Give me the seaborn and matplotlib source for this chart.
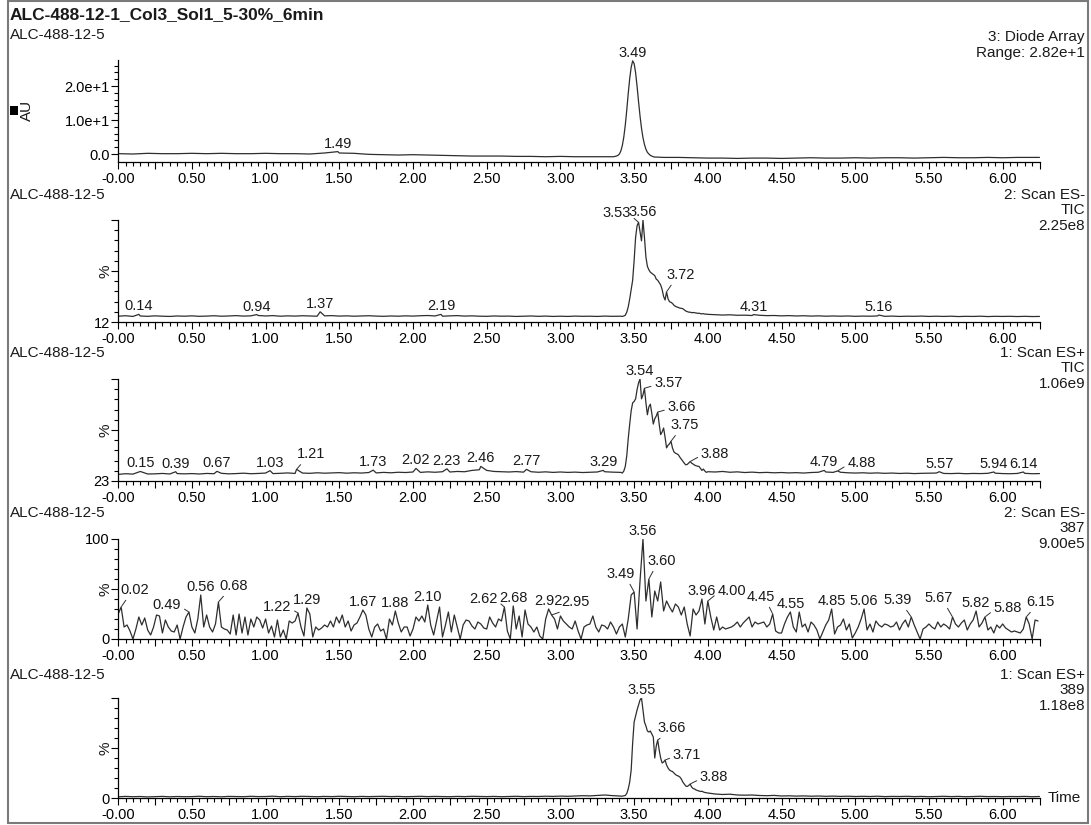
import numpy as np
import pandas as pd
import matplotlib
matplotlib.use("Agg")
import matplotlib.pyplot as plt
from matplotlib.patches import Rectangle
from matplotlib.ticker import FixedLocator
import seaborn as sns

# ======================= DATA =======================
title_text = "ALC-488-12-1_Col3_Sol1_5-30%_6min"
sample_name = "ALC-488-12-5"
x_major = [round(0.25 * i, 2) for i in range(26)]          # 0.00 .. 6.25
x_minor = [round(0.05 * i, 2) for i in range(126)]

# ---- Panel 1 : 3: Diode Array (AU) ----
da_seg1 = [0.1, 0.0, 0.2, 0.1, 0.1, 0.2, 0.1, 0.2, 0.1, 0.1,
           0.2, 0.1, 0.1, 0.0, 0.3, 0.3, 0.2, -0.1, -0.2, -0.3,
           -0.2, -0.3, -0.4, -0.5, -0.6, -0.6, -0.6, -0.7, -0.7, -0.8,
           -0.7, -0.8, -0.8, -0.8]                                   # 0.00-3.30 /0.10
da_seg2 = [-0.8, -0.8, -0.7, -0.6, -0.4, 0.0, 0.9, 2.5, 5.0, 8.5,
           12.9, 17.8, 22.2, 25.5, 27.4, 26.6, 23.9, 19.9, 15.4, 11.2,
           7.6, 4.8, 2.8, 1.4, 0.5, 0.0, -0.4, -0.6, -0.8, -0.9, -0.9]  # 3.35-3.65 /0.01
da_seg3 = [-1.0, -1.0, -1.1, -1.2, -1.2, -1.3, -1.2, -1.2, -1.3, -1.2,
           -1.1, -1.2, -1.2, -1.1, -1.2, -1.1, -1.1, -1.2, -1.1, -1.0,
           -1.1, -1.1, -1.0, -1.1, -1.0, -1.0]                      # 3.70-6.20 /0.10
da_extra_t = [1.49, 6.25]
da_extra_v = [0.7, -1.0]
da_labels = [1.49, 3.49]

# ---- Panel 2 : 2: Scan ES- TIC (%) ----
tneg_seg1 = [17.0, 17.4, 16.8, 17.2, 16.9, 17.3, 17.0, 16.8, 17.2, 17.0,
             17.3, 16.9, 17.1, 17.4, 17.0, 17.2, 17.5, 17.1, 17.3, 17.6,
             17.2, 17.5, 17.0, 17.3, 17.1, 17.4, 17.2, 17.0, 17.3, 17.5,
             17.1, 17.3, 17.0, 17.2, 17.4, 17.1, 16.9, 17.2, 17.0, 17.3,
             17.1, 17.4, 17.6, 17.2, 17.0, 17.3, 17.5, 17.1, 17.3, 17.0,
             16.9, 17.2, 17.0, 17.1, 16.8, 17.0, 17.2, 16.9, 17.1, 16.8,
             17.0, 16.8, 17.1, 16.9, 17.0, 16.8, 17.1, 16.9, 17.0]
tneg_seg2 = [17.0, 16.8, 17.2, 17.8, 20.5, 25.0, 32.0, 40.0, 48.0, 65.0,
             85.0, 95.0, 98.0, 90.0, 82.0, 100.0, 85.0, 68.0, 60.0, 57.0,
             55.0, 54.0, 53.0, 52.0, 49.0, 48.0, 46.0, 44.0, 40.0, 34.0,
             31.0, 38.0, 32.0, 29.5, 29.0, 28.0, 26.5, 25.5, 25.0, 24.5,
             24.0, 23.8, 23.5, 22.5, 21.5, 21.0, 20.5, 20.5, 20.0, 20.2,
             20.0, 19.8, 19.5, 19.6, 19.2, 19.0, 19.2, 18.8, 18.8, 18.6]
tneg_seg3 = [18.3, 18.0, 18.2, 17.8, 17.9, 17.6, 17.8, 17.5, 17.6, 17.3,
             17.5, 17.2, 17.4, 17.1, 17.3, 17.0, 17.2, 17.0, 17.2, 16.9,
             17.1, 17.0, 17.2, 16.9, 17.1, 16.8, 17.0, 16.9, 17.1, 16.8,
             17.0, 16.8, 17.0, 16.7, 16.9, 16.8, 17.0, 16.7, 16.9, 16.8,
             16.9, 16.7, 16.9, 16.7, 16.8]
tneg_extra_t = [0.14, 0.94, 1.37, 2.19, 4.31, 5.16]
tneg_extra_v = [18.6, 18.4, 20.8, 18.6, 18.4, 18.0]
tneg_labels = [0.14, 0.94, 1.37, 2.19, 3.53, 3.56, 3.72, 4.31, 5.16]

# ---- Panel 3 : 1: Scan ES+ TIC (%) ----
tpos_seg1 = [28.0, 28.5, 28.2, 28.6, 28.3, 28.4, 28.7, 28.3, 28.6, 28.4,
             28.6, 28.3, 28.7, 28.5, 28.8, 28.4, 28.6, 28.9, 28.5, 28.7,
             29.0, 28.6, 28.8, 29.1, 28.7, 29.0, 28.8, 29.2, 28.9, 29.1,
             29.3, 28.9, 29.2, 29.0, 29.4, 29.1, 29.5, 29.2, 29.6, 29.4,
             29.8, 29.5, 29.9, 29.6, 30.0, 29.8, 30.2, 30.0, 31.0, 31.5,
             31.0, 30.2, 30.0, 29.8, 30.1, 29.7, 30.0, 29.6, 29.9, 29.5,
             29.8, 29.5, 29.7, 29.4, 29.6, 29.8, 30.0, 29.7, 29.5]
tpos_seg2 = [29.5, 29.0, 30.5, 34.0, 42.0, 55.0, 66.0, 76.0, 82.0, 83.0,
             85.0, 92.0, 97.0, 100.0, 85.0, 88.0, 93.0, 82.0, 73.0, 79.0,
             81.0, 74.0, 66.0, 70.0, 72.0, 75.0, 66.0, 58.0, 60.0, 63.0,
             56.0, 48.0, 50.0, 51.0, 53.0, 48.0, 45.0, 44.0, 43.5, 42.8,
             41.0, 39.5, 38.0, 36.5, 35.2, 35.5, 36.5, 37.7, 36.5, 35.8,
             35.0, 34.5, 34.2, 34.0, 32.5, 31.0, 32.0, 30.5, 29.5, 30.0]
tpos_seg3 = [29.8, 30.2, 29.6, 29.9, 29.4, 29.7, 29.3, 29.5, 29.2, 29.4,
             29.1, 29.3, 29.0, 29.4, 29.6, 29.8, 29.5, 29.6, 29.2, 29.0,
             29.2, 28.9, 29.1, 28.8, 29.0, 28.7, 28.9, 28.6, 28.8, 28.9,
             29.0, 28.7, 28.6, 28.8, 28.5, 28.7, 28.6, 28.8, 28.9, 28.6,
             28.5, 28.7, 28.8, 28.5, 28.6]
tpos_extra_t = [0.15, 0.39, 0.67, 1.03, 1.21, 1.73, 2.02, 2.23, 2.46, 2.77,
                3.29, 4.79, 4.88, 5.57, 5.94, 6.14]
tpos_extra_v = [30.2, 30.0, 30.3, 30.8, 31.8, 31.2, 32.5, 32.2, 34.0, 31.8,
                31.0, 31.0, 30.6, 30.0, 29.8, 29.8]
tpos_labels = [0.15, 0.39, 0.67, 1.03, 1.21, 1.73, 2.02, 2.23, 2.46, 2.77,
               3.29, 3.54, 3.57, 3.66, 3.75, 3.88, 4.79, 4.88, 5.57, 5.94, 6.14]

# ---- Panel 4 : 2: Scan ES- 387 (%) ----  every 0.02 min from 0.00
m387_vals = [25, 32, 12, 14, 8, 0, 10, 22, 14, 21,
             9, 4, 12, 24, 23, 6, 19, 12, 8, 7,
             14, 0, 12, 22, 27, 12, 6, 20, 44, 12,
             24, 12, 7, 15, 37, 12, 10, 9, 5, 24,
             4, 25, 6, 22, 4, 20, 12, 22, 19, 11,
             20, 6, 13, 2, 19, 2, 9, 0, 18, 16,
             18, 26, 12, 3, 31, 25, 2, 12, 9, 11,
             14, 12, 18, 12, 22, 16, 24, 12, 18, 8,
             14,
             16, 22, 29, 24, 10, 2, 12, 15, 8, 10,
             0, 20, 14, 28, 16, 7, 12, 12, 3, 10,
             22, 18, 23, 17, 34, 14, 4, 18, 32, 2,
             14, 27, 7, 24, 12, 0, 14, 19, 18, 13,
             10, 17, 15, 11, 10, 22, 16, 12, 20, 18,
             32, 8, 0, 33, 10, 23, 2, 29, 15, 12,
             7, 12, 3, 0, 20, 30, 24, 20, 10, 23,
             18, 15, 12, 10, 18, 8, 0, 12, 14, 15,
             23, 12, 7, 14, 13, 10, 17, 12, 5, 12,
             15, 2, 20, 44, 47, 10, 58, 100, 38, 60,
             22, 48, 38, 57, 28, 38, 32, 27, 35, 32,
             24, 32, 15, 3, 30, 24, 28, 40, 15, 38,
             22, 9, 22, 9, 12, 10, 11, 12, 14, 17,
             12, 16, 19, 22, 12, 17, 15, 16, 17, 12,
             15, 25, 8, 6, 6, 15, 22, 27, 12, 7,
             27, 12, 15, 7, 17, 14, 9, 0, 7, 14,
             19, 30, 5, 12, 14, 20, 9, 15, 1, 6,
             12, 20, 30, 9, 15, 7, 18, 14, 12, 15,
             14, 12, 13, 17, 9, 15, 19, 12, 22, 14,
             7, 0, 10, 12, 15, 12, 10, 17, 12, 15,
             13, 10, 22, 15, 12, 16, 19, 9, 15, 19,
             28, 12, 16, 22, 9, 12, 6, 14, 11, 15,
             11, 9, 7, 8, 7, 6, 10, 22, 15, 0,
             19, 18]
m387_labels = [0.02, 0.49, 0.56, 0.68, 1.22, 1.29, 1.67, 1.88, 2.10, 2.62,
               2.68, 2.92, 2.95, 3.49, 3.56, 3.60, 3.96, 4.00, 4.45, 4.55,
               4.85, 5.06, 5.39, 5.67, 5.82, 5.88, 6.15]

# ---- Panel 5 : 1: Scan ES+ 389 (%) ----
m389_seg1 = [1.2, 1.6, 1.3, 1.5, 1.1, 1.4, 1.6, 1.2, 1.5, 1.3,
             1.4, 1.7, 1.3, 1.5, 1.2, 1.6, 1.4, 1.3, 1.7, 1.4,
             1.5, 1.8, 1.3, 1.6, 1.4, 1.7, 1.5, 1.3, 1.6, 1.4,
             1.7, 1.5, 1.3, 1.6, 1.4, 1.5, 1.7, 1.4, 1.6, 1.3,
             1.5, 1.7, 1.4, 1.6, 1.5, 1.3, 1.6, 1.4, 1.7, 1.5,
             1.4, 1.6, 1.3, 1.5, 1.7, 1.4, 1.6, 1.5, 1.8, 1.6,
             1.9, 1.7, 2.0, 2.3, 2.1, 2.6, 3.0, 2.4, 2.0]
m389_seg2 = [1.8, 1.9, 2.2, 2.5, 4.5, 9.0, 16.0, 28.0, 55.0, 76.0,
             82.0, 88.0, 93.0, 98.0, 100.0, 88.0, 76.0, 72.0, 67.0, 66.0,
             67.0, 64.0, 61.0, 40.0, 52.0, 58.0, 48.0, 40.0, 35.0, 36.0,
             38.0, 33.0, 30.0, 28.0, 27.0, 26.5, 25.0, 23.5, 22.5, 22.0,
             21.0, 19.0, 16.0, 14.0, 12.0, 11.5, 12.5, 14.0, 11.0, 9.5,
             9.0, 8.0, 7.5, 7.0, 6.5, 6.8, 6.0, 5.5, 5.2, 5.0]
m389_seg3 = [4.0, 3.5, 3.8, 3.0, 2.8, 3.0, 2.5, 2.3, 2.6, 2.0,
             2.2, 1.9, 2.1, 1.8, 2.0, 1.7, 1.9, 1.6, 1.8, 1.5,
             1.7, 1.5, 1.8, 1.4, 1.6, 1.5, 1.7, 1.4, 1.6, 1.3,
             1.5, 1.7, 1.4, 1.6, 1.3, 1.5, 1.7, 1.4, 1.5, 1.3,
             1.5, 1.4, 1.6, 1.3, 1.5]
m389_labels = [3.55, 3.66, 3.71, 3.88]

# ======================= LAYOUT / STYLE =======================
W, H = 1091, 825
AX_L, AX_R = 118.2, 1039.5
panel_px = [(60, 162), (220, 322), (379, 481), (539, 639), (698, 798)]
left_lbl_y = [35, 195, 353, 513, 675]
right_lbl_y = [37, 195, 353, 513, 675]
LINE_C = "#2e2e2e"
FS_TICK, FS_PEAK, FS_HEAD = 10.5, 10.5, 11

sns.set_theme(style="ticks")
plt.rcParams['font.family'] = ['Liberation Sans', 'DejaVu Sans']
plt.rcParams['axes.edgecolor'] = 'black'
plt.rcParams['xtick.color'] = 'black'
plt.rcParams['ytick.color'] = 'black'
plt.rcParams['text.color'] = '#1a1a1a'


def build(segments, extra_t=(), extra_v=()):
    t = np.concatenate([s0 + st * np.arange(len(v)) for s0, st, v in segments])
    v = np.concatenate([np.asarray(vv, float) for _, _, vv in segments])
    et = np.asarray(extra_t, float)
    ev = np.asarray(extra_v, float)
    if len(et):
        keep = np.abs(t[:, None] - et[None, :]).min(axis=1) > 0.006
        t = np.concatenate([t[keep], et])
        v = np.concatenate([v[keep], ev])
    o = np.argsort(t)
    return pd.DataFrame({"time": t[o], "value": v[o]})


panels = [
    dict(df=build([(0.0, 0.1, da_seg1), (3.35, 0.01, da_seg2), (3.70, 0.1, da_seg3)],
                  da_extra_t, da_extra_v),
         labels=da_labels, offsets={},
         ylim=(-2.35, 27.65), ymaj=[0, 10, 20], ylab=["0.0", "1.0e+1", "2.0e+1"],
         ymin=list(range(0, 28, 2)),
         right=["3: Diode Array", "Range: 2.82e+1"]),
    dict(df=build([(0.0, 0.05, tneg_seg1), (3.41, 0.01, tneg_seg2), (4.05, 0.05, tneg_seg3)],
                  tneg_extra_t, tneg_extra_v),
         labels=tneg_labels, offsets={3.53: (-22, 9), 3.72: (14, 17)},
         ylim=(12, 100), ymaj=[12, 56, 100], ylab=["12", "", ""],
         ymin=list(np.linspace(12, 100, 11)),
         right=["2: Scan ES-", "TIC", "2.25e8"]),
    dict(df=build([(0.0, 0.05, tpos_seg1), (3.41, 0.01, tpos_seg2), (4.05, 0.05, tpos_seg3)],
                  tpos_extra_t, tpos_extra_v),
         labels=tpos_labels,
         offsets={1.21: (14, 15), 3.57: (24, 5), 3.66: (24, 5), 3.75: (14, 16),
                  3.88: (25, 8), 4.88: (24, 8)},
         ylim=(23, 100), ymaj=[23, 61.5, 100], ylab=["23", "", ""],
         ymin=list(np.linspace(23, 100, 11)),
         right=["1: Scan ES+", "TIC", "1.06e9"]),
    dict(df=build([(0.0, 0.02, m387_vals)]),
         labels=m387_labels,
         offsets={0.02: (14, 17), 0.49: (-22, 7), 0.68: (15, 16), 1.22: (-21, 6),
                  2.62: (-21, 8), 2.95: (24, 13), 3.49: (-13, 18), 3.60: (13, 18),
                  4.00: (24, 10), 4.45: (-12, 17), 5.39: (-14, 17), 5.67: (-14, 19),
                  5.88: (23, 9), 6.15: (14, 15)},
         ylim=(0, 100), ymaj=[0, 50, 100], ylab=["0", "", "100"],
         ymin=list(range(0, 101, 10)),
         right=["2: Scan ES-", "387", "9.00e5"]),
    dict(df=build([(0.0, 0.05, m389_seg1), (3.41, 0.01, m389_seg2), (4.05, 0.05, m389_seg3)]),
         labels=m389_labels, offsets={3.66: (14, 12), 3.71: (22, 5), 3.88: (24, 7)},
         ylim=(0, 100), ymaj=[0, 50, 100], ylab=["0", "", ""],
         ymin=list(range(0, 101, 10)),
         right=["1: Scan ES+", "389", "1.18e8"]),
]

fig = plt.figure(figsize=(W / 100, H / 100), dpi=100)


def ftext(x, y, s, **kw):
    kw.setdefault("va", "center")
    fig.text(x / W, 1 - y / H, s, **kw)


xlabels = [("-0.00" if v == 0 else f"{v:.2f}") if abs((v * 2) - round(v * 2)) < 1e-9 else ""
           for v in x_major]

for i, p in enumerate(panels):
    top, bot = panel_px[i]
    ax = fig.add_axes([AX_L / W, 1 - bot / H, (AX_R - AX_L) / W, (bot - top) / H])
    ax.patch.set_alpha(0)
    df = p["df"]
    sns.lineplot(data=df, x="time", y="value", ax=ax, color=LINE_C, linewidth=0.9,
                 estimator=None, sort=False, legend=False)
    ax.set_xlim(0, 6.25)
    ax.set_ylim(*p["ylim"])
    sns.despine(ax=ax)
    for s in ("left", "bottom"):
        ax.spines[s].set_linewidth(0.9)
        ax.spines[s].set_color("black")
    ax.set_xticks(x_major)
    ax.set_xticklabels(xlabels)
    ax.xaxis.set_minor_locator(FixedLocator(x_minor))
    ax.set_yticks(p["ymaj"])
    ax.set_yticklabels(p["ylab"])
    ax.yaxis.set_minor_locator(FixedLocator(p["ymin"]))
    ax.tick_params(which="major", length=5, width=0.8, direction="out", labelsize=FS_TICK)
    ax.tick_params(which="minor", length=3, width=0.8, direction="out")
    ax.tick_params(axis="x", pad=2)
    ax.tick_params(axis="y", pad=1)
    ax.set_xlabel("")
    ax.set_ylabel("")

    tt = df["time"].to_numpy()
    vv = df["value"].to_numpy()
    for lt in p["labels"]:
        win = np.where(np.abs(tt - lt) <= 0.011)[0]
        if len(win) == 0:
            win = [int(np.abs(tt - lt).argmin())]
        j = win[int(np.argmax(vv[win]))]
        xy = (tt[j], vv[j])
        if lt in p["offsets"]:
            dx, dy = p["offsets"][lt]
            if dy >= 12:
                rp = (0.25 if dx > 0 else 0.75, 0.0)
            else:
                rp = (0.0 if dx > 0 else 1.0, 0.35)
            ax.annotate(f"{lt:.2f}", xy=xy, xytext=(dx, dy), textcoords="offset pixels",
                        ha="center", va="center", fontsize=FS_PEAK, annotation_clip=False,
                        arrowprops=dict(arrowstyle="-", color=LINE_C, lw=0.7,
                                        shrinkA=0, shrinkB=0.5, relpos=rp))
        else:
            ax.annotate(f"{lt:.2f}", xy=xy, xytext=(0, 8), textcoords="offset pixels",
                        ha="center", va="center", fontsize=FS_PEAK, annotation_clip=False)

    # headers
    ftext(10, left_lbl_y[i], sample_name, ha="left", fontsize=FS_HEAD)
    for k, line in enumerate(p["right"]):
        ftext(1085, right_lbl_y[i] + 15.5 * k, line, ha="right", fontsize=FS_HEAD)
    if i > 0:
        ftext(106, (top + bot) / 2, "%", ha="center", rotation=90, fontsize=FS_HEAD)

# title, AU label, Time label
ftext(10, 15, title_text, ha="left", fontsize=12.5, fontweight="bold")
ftext(27, 110, "AU", ha="center", rotation=90, fontsize=FS_HEAD)
fig.patches.append(Rectangle((10 / W, 1 - 115 / H), 8 / W, 9 / H, transform=fig.transFigure,
                             facecolor="black", edgecolor="none"))
ftext(1048, 798, "Time", ha="left", fontsize=FS_HEAD)

# outer frame
fig.patches.append(Rectangle((8 / W, 1 - 823 / H), 1080 / W, 822 / H, transform=fig.transFigure,
                             fill=False, edgecolor="#7a7a7a", linewidth=1.5))

fig.savefig("out.png", dpi=100)
